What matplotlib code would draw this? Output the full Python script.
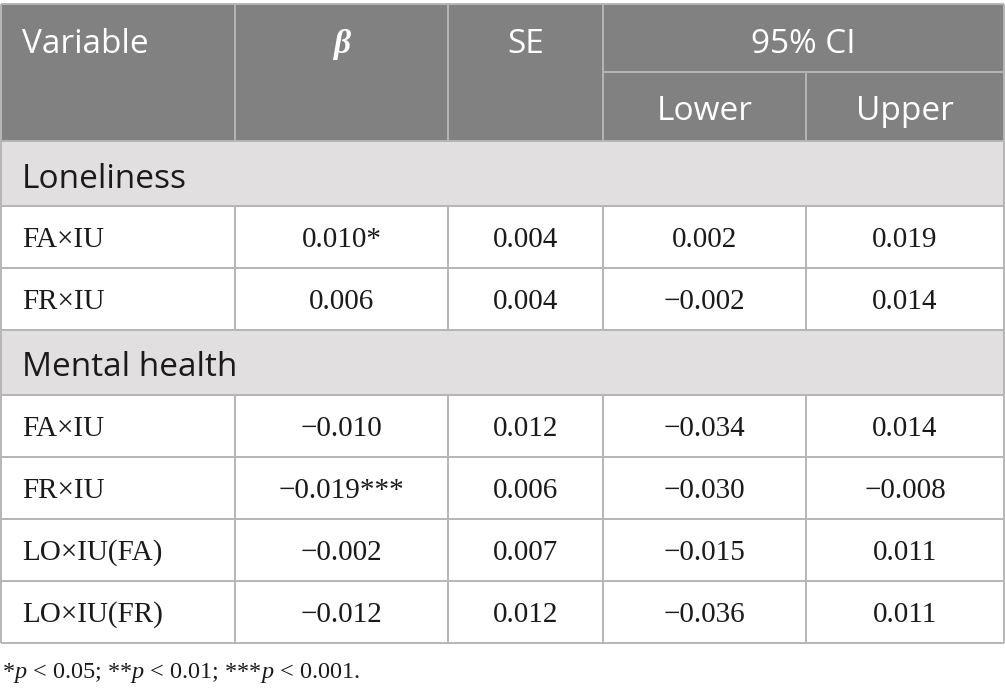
import matplotlib
matplotlib.use('Agg')
import matplotlib.pyplot as plt
from matplotlib.patches import Rectangle

plt.rcParams['mathtext.fontset'] = 'custom'
plt.rcParams['mathtext.rm'] = 'Liberation Serif'
plt.rcParams['mathtext.it'] = 'Liberation Serif:italic'

# table content
sections = ['Loneliness', 'Mental health']
section_sizes = [2, 4]
variables = ['FA×IU', 'FR×IU', 'FA×IU', 'FR×IU', 'LO×IU(FA)', 'LO×IU(FR)']
beta = ['0.010*', '0.006', '−0.010', '−0.019***', '−0.002', '−0.012']
se = ['0.004', '0.004', '0.012', '0.006', '0.007', '0.012']
lower = ['0.002', '−0.002', '−0.034', '−0.030', '−0.015', '−0.036']
upper = ['0.019', '0.014', '0.014', '−0.008', '0.011', '0.011']
footnote = r'*$p$ < 0.05; **$p$ < 0.01; ***$p$ < 0.001.'

# layout (pixels)
col_x = [1, 235, 448, 603, 806, 1004]
head_top, head_mid, head_bot = 4, 72, 141
section_h = 65
row_h = 62

header_bg = '#808180'
section_bg = '#e1dfe0'
line_c = '#b5b5b5'
lw = 1.4

sans = 'Open Sans'
serif = 'Liberation Serif'
hsize = 24
bsize = 21

fig = plt.figure(figsize=(10.05, 6.98), dpi=100)
ax = fig.add_axes([0, 0, 1, 1])
ax.set_xlim(0, 1005)
ax.set_ylim(698, 0)
ax.axis('off')


def hline(y, x0, x1):
    ax.plot([x0, x1], [y, y], color=line_c, lw=lw, solid_capstyle='butt')


def vline(x, y0, y1):
    ax.plot([x, x], [y0, y1], color=line_c, lw=lw, solid_capstyle='butt')


# header
ax.add_patch(Rectangle((col_x[0], head_top), col_x[-1] - col_x[0], head_bot - head_top,
                       color=header_bg, lw=0))
top_y = (head_top + head_mid) / 2 + 15
ax.text(22, top_y, 'Variable', family=sans, fontsize=hsize, color='white', va='baseline', ha='left')
ax.text((col_x[1] + col_x[2]) / 2, top_y, 'β', family=serif, fontsize=hsize, color='white',
        va='baseline', ha='center', fontweight='bold', fontstyle='italic')
ax.text((col_x[2] + col_x[3]) / 2, top_y, 'SE', family=sans, fontsize=hsize, color='white',
        va='baseline', ha='center')
ax.text((col_x[3] + col_x[5]) / 2, top_y, '95% CI', family=sans, fontsize=hsize, color='white',
        va='baseline', ha='center')
bot_y = (head_mid + head_bot) / 2 + 14
ax.text((col_x[3] + col_x[4]) / 2, bot_y, 'Lower', family=sans, fontsize=hsize, color='white',
        va='baseline', ha='center')
ax.text((col_x[4] + col_x[5]) / 2, bot_y, 'Upper', family=sans, fontsize=hsize, color='white',
        va='baseline', ha='center')

hline(head_top, col_x[0], col_x[-1])
hline(head_mid, col_x[3], col_x[-1])
for x in col_x[:4] + [col_x[-1]]:
    vline(x, head_top, head_bot)
vline(col_x[4], head_mid, head_bot)

# body
y = head_bot
i = 0
for name, n in zip(sections, section_sizes):
    ax.add_patch(Rectangle((col_x[0], y), col_x[-1] - col_x[0], section_h, color=section_bg, lw=0))
    ax.text(22, y + section_h / 2 + 14, name, family=sans, fontsize=hsize, color='#1a1a1a',
            va='baseline', ha='left')
    hline(y, col_x[0], col_x[-1])
    vline(col_x[0], y, y + section_h)
    vline(col_x[-1], y, y + section_h)
    y += section_h
    for _ in range(n):
        hline(y, col_x[0], col_x[-1])
        for x in col_x:
            vline(x, y, y + row_h)
        cy = y + row_h / 2 + 10
        ax.text(22, cy, variables[i], family=serif, fontsize=bsize, color='#1a1a1a',
                va='baseline', ha='left')
        for j, vals in enumerate([beta, se, lower, upper]):
            ax.text((col_x[j + 1] + col_x[j + 2]) / 2, cy, vals[i], family=serif, fontsize=bsize,
                    color='#1a1a1a', va='baseline', ha='center')
        y += row_h
        i += 1
hline(y, col_x[0], col_x[-1])

ax.text(2, 678, footnote, family=serif, fontsize=17.5, color='#1a1a1a', va='baseline', ha='left')

fig.savefig('out.png', dpi=100, facecolor='white')
